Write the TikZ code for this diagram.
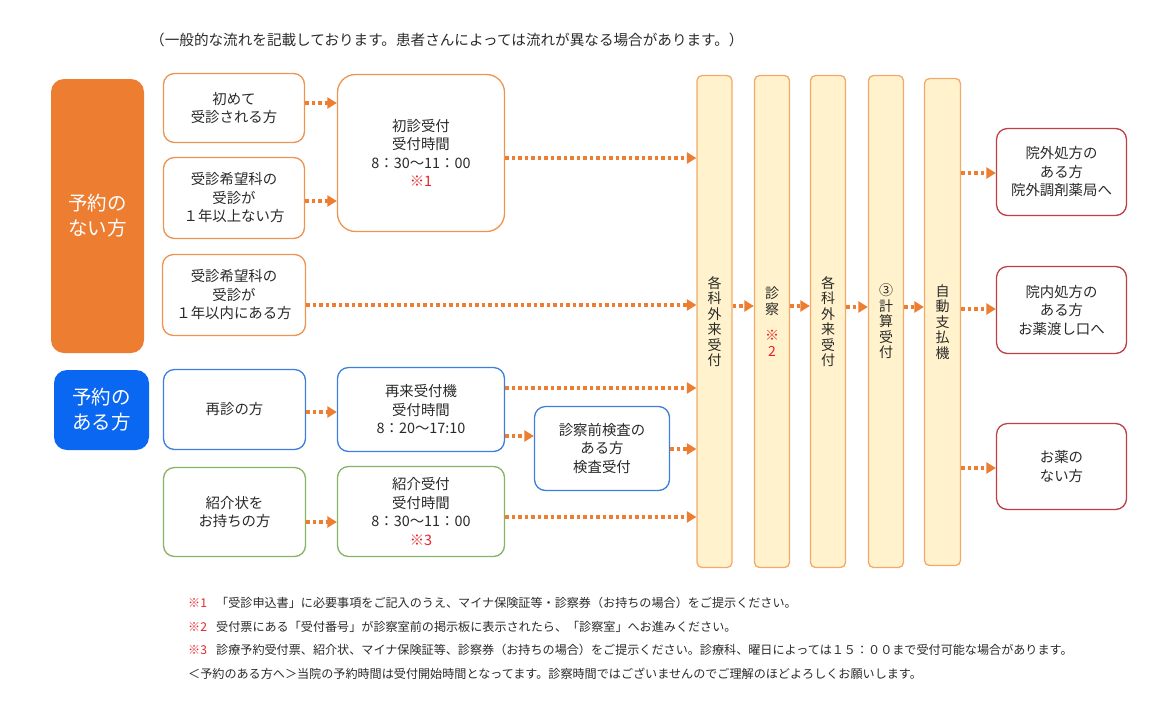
\documentclass[tikz,border=0pt]{standalone}
\usepackage{fontspec}
\setmainfont{Noto Sans CJK JP}
\usetikzlibrary{arrows.meta,calc}
\definecolor{orgF}{HTML}{ED7D31}
\definecolor{orgB}{HTML}{EE9350}
\definecolor{bluF}{HTML}{0A67F2}
\definecolor{bluB}{HTML}{3D7FDE}
\definecolor{grnB}{HTML}{86B365}
\definecolor{colF}{HTML}{FFF2CC}
\definecolor{colB}{HTML}{F2AA6A}
\definecolor{redB}{HTML}{BE4046}
\definecolor{txt}{HTML}{2A2A2A}
\definecolor{redT}{HTML}{E8232B}
\newcommand\fsz[2]{\fontsize{#1}{#2}\selectfont}
\begin{document}
\begin{tikzpicture}[x=1pt,y=-1pt,
  every node/.style={text=txt},
  box/.style={draw, fill=white, rounded corners=11pt, align=center, inner sep=0pt, line width=1.3pt, font=\fsz{14.4}{18.5}},
  obox/.style={box, draw=orgB},
  bbox/.style={box, draw=bluB},
  gbox/.style={box, draw=grnB},
  rbox/.style={box, draw=redB},
  bigbox/.style={fill=#1, rounded corners=13pt, align=center, inner sep=0pt, text=white, font=\fsz{19.5}{25}},
  colbox/.style={draw=colB, fill=colF, rounded corners=5pt, line width=1.3pt, align=center, inner sep=0pt, minimum width=35, font=\fsz{14}{15.5}},
  arr/.style={draw=orgF, line width=3.5pt, dash pattern=on 3.5pt off 3pt, -{Triangle[length=9.5pt,width=11pt]}},
  note/.style={anchor=west, inner sep=0pt, font=\fsz{12.1}{14}},
  rednote/.style={note, text=redT}
]
\useasboundingbox (0,0) rectangle (1167,721);

% header
\node[anchor=west, inner sep=0pt, font=\fsz{14.6}{16}] (hdr) at (150,40) {（一般的な流れを記載しております。患者さんによっては流れが異なる場合があります。）};

% left labels
\node[bigbox=orgF, minimum width=93, minimum height=274] (nores) at (97.5,216) {予約の\\ない方};
\node[bigbox=bluF, minimum width=95, minimum height=80] (res) at (101.5,410) {予約の\\ある方};

% orange group
\node[obox, minimum width=141, minimum height=69] (A) at (234,108) {初めて\\受診される方};
\node[obox, minimum width=141, minimum height=81] (B) at (234,198) {受診希望科の\\受診が\\１年以上ない方};
\node[obox, minimum width=143, minimum height=81] (C) at (234,295) {受診希望科の\\受診が\\１年以内にある方};
\node[obox, minimum width=167, minimum height=157, rounded corners=18pt] (D) at (421,153) {初診受付\\受付時間\\8：30～11：00\\{\color{redT}※1}};

% blue group
\node[bbox, minimum width=142, minimum height=80] (E) at (234.5,409.5) {再診の方};
\node[bbox, minimum width=167, minimum height=84] (F) at (421,409.5) {再来受付機\\受付時間\\8：20～17:10};
\node[bbox, minimum width=135, minimum height=84] (I) at (602,448.5) {診察前検査の\\ある方\\検査受付};

% green group
\node[gbox, minimum width=142, minimum height=89] (G) at (234.5,512) {紹介状を\\お持ちの方};
\node[gbox, minimum width=167, minimum height=90] (H) at (421,511.5) {紹介受付\\受付時間\\8：30～11：00\\{\color{redT}※3}};

% columns
\node[colbox, minimum height=492] (c1) at (714.5,321.5) {各\\科\\外\\来\\受\\付};
\node[colbox, minimum height=492] (c2) at (772,321.5) {診\\察\\[11pt]{\color{redT}※}\\{\color{redT}2}};
\node[colbox, minimum height=492] (c3) at (828,321.5) {各\\科\\外\\来\\受\\付};
\node[colbox, minimum height=492] (c4) at (886,321.5) {③\\計\\算\\受\\付};
\node[colbox, minimum height=487, minimum width=36] (c5) at (942.5,322) {自\\動\\支\\払\\機};

% right boxes
\node[rbox, minimum width=130, minimum height=87] (J) at (1061.5,172) {院外処方の\\ある方\\院外調剤薬局へ};
\node[rbox, minimum width=130, minimum height=87] (K) at (1061.5,310) {院内処方の\\ある方\\お薬渡し口へ};
\node[rbox, minimum width=130, minimum height=86] (L) at (1061.5,466.5) {お薬の\\ない方};

% arrows
\draw[arr] (A.east |- 0,103) -- (D.west |- 0,103);
\draw[arr] (B.east |- 0,201) -- (D.west |- 0,201);
\draw[arr] (D.east |- 0,158) -- (c1.west |- 0,158);
\draw[arr] (C.east |- 0,305) -- (c1.west |- 0,305);
\draw[arr] (E.east |- 0,412) -- (F.west |- 0,412);
\draw[arr] (F.east |- 0,388) -- (c1.west |- 0,388);
\draw[arr] (F.east |- 0,436) -- (I.west |- 0,436);
\draw[arr] (I.east |- 0,449) -- (c1.west |- 0,449);
\draw[arr] (G.east |- 0,522) -- (H.west |- 0,522);
\draw[arr] (H.east |- 0,517) -- (c1.west |- 0,517);
\draw[arr] (c1.east |- 0,306) -- (c2.west |- 0,306);
\draw[arr] (c2.east |- 0,306) -- (c3.west |- 0,306);
\draw[arr] (c3.east |- 0,307) -- (c4.west |- 0,307);
\draw[arr] (c4.east |- 0,307) -- (c5.west |- 0,307);
\draw[arr] (c5.east |- 0,173) -- (J.west |- 0,173);
\draw[arr] (c5.east |- 0,309) -- (K.west |- 0,309);
\draw[arr] (c5.east |- 0,468) -- (L.west |- 0,468);

% notes
\node[rednote] (m1) at (188,603) {※1};
\node[note] (n1) at (216,603) {「受診申込書」に必要事項をご記入のうえ、マイナ保険証等・診察券（お持ちの場合）をご提示ください。};
\node[rednote] (m2) at (188,627) {※2};
\node[note] (n2) at (216,627) {受付票にある「受付番号」が診察室前の掲示板に表示されたら、「診察室」へお進みください。};
\node[rednote] (m3) at (188,650) {※3};
\node[note] (n3) at (216,650) {診療予約受付票、紹介状、マイナ保険証等、診察券（お持ちの場合）をご提示ください。診療科、曜日によっては１５：００まで受付可能な場合があります。};
\node[note] (n4) at (188,674) {＜予約のある方へ＞当院の予約時間は受付開始時間となってます。診察時間ではございませんのでご理解のほどよろしくお願いします。};
\end{tikzpicture}
\end{document}
